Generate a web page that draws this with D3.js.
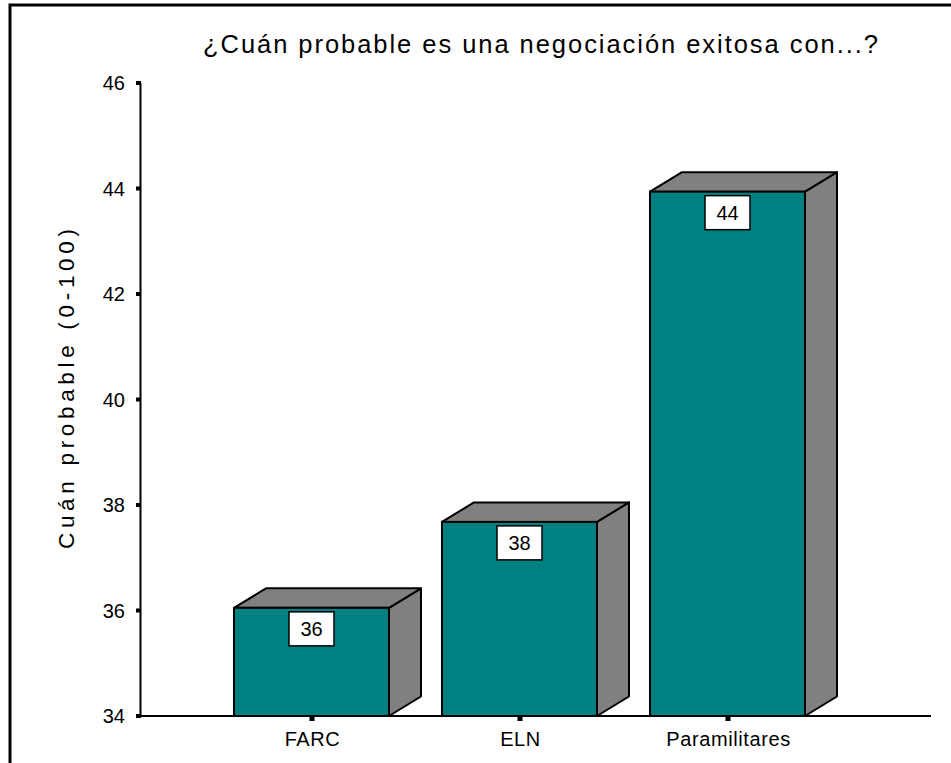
<!DOCTYPE html>
<html><head><meta charset="utf-8">
<script src="https://cdn.jsdelivr.net/npm/d3@7"></script>
<style>body{margin:0;background:#fff}svg{display:block}text{font-family:Arial,"Liberation Sans",sans-serif;fill:#000}</style>
</head><body>
<script>
const categories = ["FARC", "ELN", "Paramilitares"];
const values = [36.05, 37.68, 43.94];
const valueLabels = ["36", "38", "44"];
const yTicks = [34, 36, 38, 40, 42, 44, 46];
const title = "¿Cuán probable es una negociación exitosa con...?";
const yTitle = "Cuán probable (0-100)";

const W = 951, H = 763;
const svg = d3.select("body").append("svg").attr("width", W).attr("height", H);

// frame
svg.append("path").attr("d", "M10,763V5H951").attr("fill", "none").attr("stroke", "#000").attr("stroke-width", 3);

const y = d3.scaleLinear().domain([34, 46]).range([716, 83]);
const x = d3.scaleBand().domain(categories).range([207.5, 831.5]).paddingInner(0.255).paddingOuter(0.1275);
const dx = 32, dy = 19.5;

// title
svg.append("text").attr("x", 203).attr("y", 53).attr("font-size", 25.5)
  .attr("textLength", 675).attr("lengthAdjust", "spacing").text(title);

// y title
svg.append("text").attr("transform", "translate(74,389) rotate(-90)").attr("text-anchor", "middle")
  .attr("font-size", 22.5).attr("textLength", 320).attr("lengthAdjust", "spacing").text(yTitle);

// bars
const g = svg.append("g");
categories.forEach((c, i) => {
  const x0 = x(c), x1 = x0 + x.bandwidth(), yt = y(values[i]), yb = y(34);
  g.append("path").attr("d", `M${x1},${yt}L${x1+dx},${yt-dy}L${x1+dx},${yb-dy}L${x1},${yb}Z`)
    .attr("fill", "#808080").attr("stroke", "#000").attr("stroke-width", 2).attr("stroke-linejoin", "round");
  g.append("path").attr("d", `M${x0},${yt}L${x0+dx},${yt-dy}L${x1+dx},${yt-dy}L${x1},${yt}Z`)
    .attr("fill", "#808080").attr("stroke", "#000").attr("stroke-width", 2).attr("stroke-linejoin", "round");
  g.append("rect").attr("x", x0).attr("y", yt).attr("width", x.bandwidth()).attr("height", yb - yt)
    .attr("fill", "#008080").attr("stroke", "#000").attr("stroke-width", 2);
  const cx = x0 + x.bandwidth() / 2;
  g.append("rect").attr("x", cx - 22.5).attr("y", yt + 4).attr("width", 45).attr("height", 34)
    .attr("fill", "#fff").attr("stroke", "#000").attr("stroke-width", 1.5);
  g.append("text").attr("x", cx).attr("y", yt + 28.5).attr("text-anchor", "middle").attr("font-size", 20).text(valueLabels[i]);
});

// y axis
svg.append("line").attr("x1", 140.5).attr("x2", 140.5).attr("y1", y(46)).attr("y2", y(34)).attr("stroke", "#000").attr("stroke-width", 2);
yTicks.forEach(t => {
  svg.append("rect").attr("x", 136).attr("y", y(t) - 2).attr("width", 5).attr("height", 4).attr("fill", "#000");
  svg.append("text").attr("x", 125).attr("y", y(t) + 7).attr("text-anchor", "end").attr("font-size", 20).text(t);
});

// x axis
svg.append("line").attr("x1", 136).attr("x2", 931).attr("y1", 716).attr("y2", 716).attr("stroke", "#000").attr("stroke-width", 2);
categories.forEach(c => {
  const cx = x(c) + x.bandwidth() / 2;
  svg.append("rect").attr("x", cx - 2).attr("y", 716).attr("width", 5).attr("height", 5).attr("fill", "#000");
  svg.append("text").attr("x", cx + 1).attr("y", 746).attr("text-anchor", "middle").attr("font-size", 20)
    .attr("letter-spacing", 0.6).text(c);
});
</script>
</body></html>
